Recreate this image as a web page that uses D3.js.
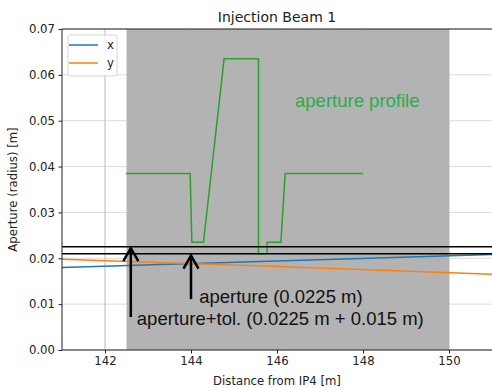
<!DOCTYPE html>
<html>
<head>
<meta charset="utf-8">
<script src="https://cdn.jsdelivr.net/npm/d3@7"></script>
<style>
    body { margin: 0; background: #fff; }
    #chart { width: 492px; height: 388px; }
    text { font-family: "DejaVu Sans", sans-serif; }
</style>
</head>
<body>
<div id="chart"></div>
<script>

// beam envelopes along s
let beamS = [141, 146, 151];
let beamX = [0.0180, 0.0194, 0.0208];
let beamY = [0.0198, 0.0182, 0.0165];

// aperture profile of the element
let profileS = [142.49, 143.98, 144.02, 144.29, 144.77, 145.57, 145.57, 145.77, 145.77, 146.09, 146.19, 148.0];
let profileR = [0.0385, 0.0385, 0.0235, 0.0235, 0.0635, 0.0635, 0.021, 0.021, 0.0235, 0.0235, 0.0385, 0.0385];

// reference levels and element span
let apertureLevels = [0.0225, 0.021];
let elementSpan = [142.5, 150];

let xTicks = [142, 144, 146, 148, 150];
let yTicks = [0, 0.01, 0.02, 0.03, 0.04, 0.05, 0.06, 0.07];

class ApertureChart {

    constructor(parentElement) {
        this.parentElement = parentElement;
    }

    initVis() {
        let vis = this;

        vis.margin = {top: 29, right: 0, bottom: 38, left: 62};
        vis.width = 492 - vis.margin.left - vis.margin.right;
        vis.height = 388 - vis.margin.top - vis.margin.bottom;

        vis.svg = d3.select("#" + vis.parentElement).append("svg")
            .attr("width", 492)
            .attr("height", 388)
            .append("g")
            .attr("transform", "translate(" + vis.margin.left + "," + vis.margin.top + ")");

        vis.x = d3.scaleLinear().domain([141, 151]).range([0, vis.width]);
        vis.y = d3.scaleLinear().domain([0, 0.07]).range([vis.height, 0]);

        vis.svg.append("defs").append("clipPath").attr("id", "clip")
            .append("rect").attr("width", vis.width).attr("height", vis.height);

        // grid
        vis.svg.append("g")
            .selectAll("line.hgrid")
            .data(yTicks)
            .enter().append("line")
            .attr("x1", 0).attr("x2", vis.width)
            .attr("y1", d => vis.y(d)).attr("y2", d => vis.y(d))
            .style("stroke", "#dcdcdc").style("stroke-width", 1);

        vis.svg.append("g")
            .selectAll("line.vgrid")
            .data(xTicks)
            .enter().append("line")
            .attr("x1", d => vis.x(d)).attr("x2", d => vis.x(d))
            .attr("y1", 0).attr("y2", vis.height)
            .style("stroke", "#b9b9b9").style("stroke-width", 1);

        // element span
        vis.svg.append("rect")
            .attr("x", vis.x(elementSpan[0]))
            .attr("width", vis.x(elementSpan[1]) - vis.x(elementSpan[0]))
            .attr("y", 0)
            .attr("height", vis.height)
            .style("fill", "#b0b0b0")
            .style("opacity", 0.96);

        let plot = vis.svg.append("g").attr("clip-path", "url(#clip)");

        let beamLine = (vals) => d3.line()
            .x((d, i) => vis.x(beamS[i]))
            .y(d => vis.y(d))(vals);

        plot.append("path")
            .attr("d", beamLine(beamX))
            .style("fill", "none").style("stroke", "#1f77b4").style("stroke-width", 1.5);

        plot.append("path")
            .attr("d", beamLine(beamY))
            .style("fill", "none").style("stroke", "#ff7f0e").style("stroke-width", 1.5);

        // aperture profile
        plot.append("path")
            .attr("d", d3.line().x((d, i) => vis.x(profileS[i])).y(d => vis.y(d))(profileR))
            .style("fill", "none").style("stroke", "#2ca02c").style("stroke-width", 1.5);

        plot.selectAll("line.level")
            .data(apertureLevels)
            .enter().append("line")
            .attr("x1", 0).attr("x2", vis.width)
            .attr("y1", d => vis.y(d)).attr("y2", d => vis.y(d))
            .style("stroke", "black").style("stroke-width", 1.5);

        // arrows
        let arrows = [
            {s: 142.6, tip: 0.0222, tail: 0.0072},
            {s: 144.0, tip: 0.0206, tail: 0.0111}
        ];
        arrows.forEach(a => {
            let px = vis.x(a.s), pt = vis.y(a.tip), pb = vis.y(a.tail);
            plot.append("line")
                .attr("x1", px).attr("x2", px).attr("y1", pt + 1).attr("y2", pb)
                .style("stroke", "black").style("stroke-width", 2.5);
            plot.append("path")
                .attr("d", "M" + (px - 7.5) + "," + (pt + 13) + "L" + px + "," + pt + "L" + (px + 7.5) + "," + (pt + 13))
                .style("fill", "none").style("stroke", "black").style("stroke-width", 2.5);
        });

        vis.svg.append("text")
            .attr("x", vis.x(144.19)).attr("y", vis.y(0.0102))
            .text("aperture (0.0225 m)")
            .style("font-family", "'Liberation Sans', Arial, sans-serif")
            .style("font-size", "18.5px").style("fill", "#111");

        vis.svg.append("text")
            .attr("x", vis.x(142.74)).attr("y", vis.y(0.0054))
            .text("aperture+tol. (0.0225 m + 0.015 m)")
            .style("font-family", "'Liberation Sans', Arial, sans-serif")
            .style("font-size", "18.5px").style("fill", "#111");

        vis.svg.append("text")
            .attr("x", vis.x(146.42)).attr("y", vis.y(0.053))
            .text("aperture profile")
            .style("font-family", "'Liberation Sans', Arial, sans-serif")
            .style("font-size", "18.5px").style("fill", "#22b04a");

        // axes
        vis.xAxis = d3.axisBottom().scale(vis.x).tickValues(xTicks).tickSize(3.5).tickPadding(3.5);
        vis.yAxis = d3.axisLeft().scale(vis.y).tickValues(yTicks).tickSize(3.5).tickPadding(3.5)
            .tickFormat(d3.format(".2f"));

        vis.svg.append("g")
            .attr("transform", "translate(0," + vis.height + ")")
            .call(vis.xAxis)
            .call(g => g.select(".domain").remove())
            .style("font-size", "11.7px").style("font-family", "DejaVu Sans").style("color", "#222");

        vis.svg.append("g")
            .call(vis.yAxis)
            .call(g => g.select(".domain").remove())
            .style("font-size", "11.7px").style("font-family", "DejaVu Sans").style("color", "#222");

        // spines
        vis.svg.append("path")
            .attr("d", "M0,0H" + vis.width + "M0,0V" + vis.height + "H" + vis.width)
            .style("fill", "none").style("stroke", "#222").style("stroke-width", 1);

        // legend
        let legend = vis.svg.append("g").attr("transform", "translate(6,6)");
        legend.append("rect")
            .attr("width", 49).attr("height", 41).attr("rx", 2)
            .style("fill", "white").style("fill-opacity", 0.8)
            .style("stroke", "#d6d6d6").style("stroke-width", 1);
        let legendKeys = [{k: "x", c: "#1f77b4"}, {k: "y", c: "#ff7f0e"}];
        legendKeys.forEach((d, i) => {
            legend.append("line")
                .attr("x1", 0).attr("x2", 29).attr("y1", 10 + i * 18).attr("y2", 10 + i * 18)
                .attr("transform", "translate(1,0)")
                .style("stroke", d.c).style("stroke-width", 1.5);
            legend.append("text")
                .attr("x", 39).attr("y", 10 + i * 18)
                .attr("dy", "0.35em")
                .text(d.k)
                .style("font-size", "11.7px").style("fill", "#222");
        });

        // labels
        vis.svg.append("text")
            .attr("text-anchor", "middle")
            .attr("x", vis.width / 2).attr("y", -7)
            .text("Injection Beam 1")
            .style("font-size", "14px").style("fill", "#222");

        vis.svg.append("text")
            .attr("text-anchor", "middle")
            .attr("x", vis.width / 2).attr("y", vis.height + 35)
            .text("Distance from IP4 [m]")
            .style("font-size", "11.7px").style("fill", "#222");

        vis.svg.append("text")
            .attr("text-anchor", "middle")
            .attr("transform", "translate(" + (-45) + "," + (vis.height / 2) + ") rotate(-90)")
            .text("Aperture (radius) [m]")
            .style("font-size", "11.7px").style("fill", "#222");
    }
}

let chart = new ApertureChart("chart");
chart.initVis();

</script>
</body>
</html>
